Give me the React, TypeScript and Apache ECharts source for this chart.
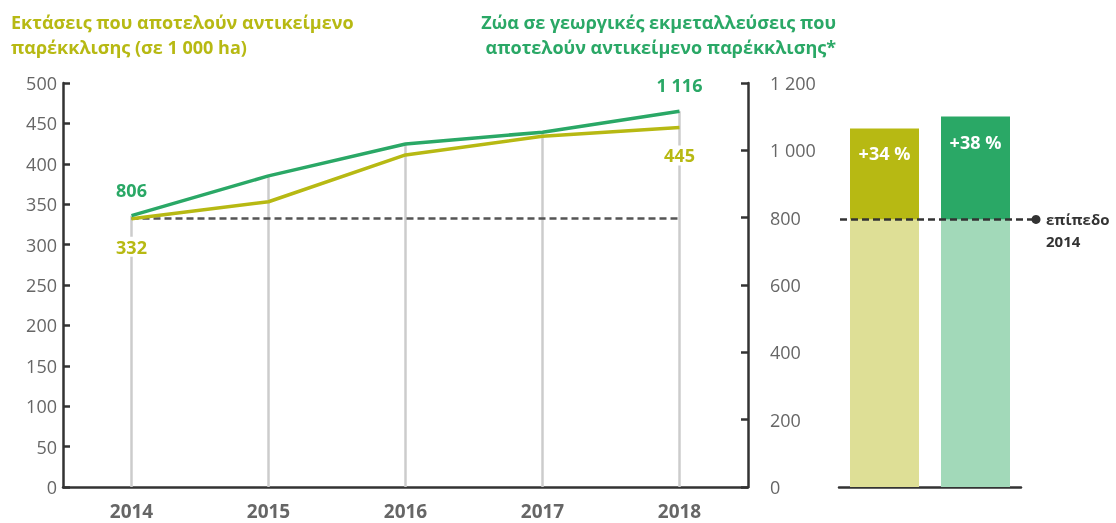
import React, { useEffect, useRef } from "react";
import * as echarts from "echarts";

const years = ["2014", "2015", "2016", "2017", "2018"];
const areaValues = [332, 353, 411, 434, 445]; // 1 000 ha, left axis
const livestockValues = [806, 924, 1019, 1054, 1116]; // right axis
const leftTitle = "Εκτάσεις που αποτελούν αντικείμενο\nπαρέκκλισης (σε 1 000 ha)";
const rightTitle = "Ζώα σε γεωργικές εκμεταλλεύσεις που\nαποτελούν αντικείμενο παρέκκλισης*";
const baseLabel = "επίπεδο\n2014";
const barCategories = ["areas", "livestock"];

const OLIVE = "#b7b913";
const GREEN = "#2aa866";
const OLIVE_LIGHT = "#dedf96";
const GREEN_LIGHT = "#a2d9b9";
const FONT = "'Open Sans', 'Noto Sans', sans-serif";

const fmt = (v: number) => String(v).replace(/\B(?=(\d{3})+(?!\d))/g, " ");

const firstLast = [
  [areaValues[0], areaValues[areaValues.length - 1]],
  [livestockValues[0], livestockValues[livestockValues.length - 1]],
];
const baseBars = firstLast.map(() => 100);
const growthBars = firstLast.map(([a, b]) => (b / a - 1) * 100);

export default function App() {
  const ref = useRef<HTMLDivElement>(null);
  useEffect(() => {
    if (!ref.current) return;
    const chart = echarts.init(ref.current, null, { renderer: "svg" });
    const last = years.length - 1;
    chart.setOption({
      animation: false,
      textStyle: { fontFamily: FONT },
      graphic: [
        {
          type: "text",
          left: 11,
          top: 9,
          style: { text: leftTitle, fill: OLIVE, font: `bold 18px ${FONT}`, lineHeight: 25 },
        },
        {
          type: "text",
          x: 836,
          y: 9,
          style: { text: rightTitle, fill: GREEN, font: `bold 18px ${FONT}`, lineHeight: 25, textAlign: "right", textVerticalAlign: "top" },
        },
      ],
      grid: [
        { left: 63, right: 368, top: 83, bottom: 36 },
        { left: 839, width: 182, top: 83, bottom: 36 },
      ],
      xAxis: [
        {
          type: "category",
          gridIndex: 0,
          data: years,
          boundaryGap: true,
          axisLine: { lineStyle: { color: "#333", width: 2.5 } },
          axisTick: { show: false },
          axisLabel: { color: "#666", fontSize: 19, lineHeight: 18, fontWeight: "bold", margin: 15, fontFamily: FONT },
        },
        {
          type: "category",
          gridIndex: 1,
          data: barCategories,
          axisLine: { lineStyle: { color: "#333", width: 2.5 } },
          axisTick: { show: false },
          axisLabel: { show: false },
        },
      ],
      yAxis: [
        {
          type: "value",
          gridIndex: 0,
          min: 0,
          max: 500,
          interval: 50,
          position: "left",
          axisLine: { show: true, lineStyle: { color: "#333", width: 2.5 } },
          axisTick: { show: true, inside: true, length: 7, lineStyle: { color: "#333", width: 2.5 } },
          axisLabel: { color: "#666", fontSize: 18, margin: 6, fontFamily: FONT },
          splitLine: { show: false },
        },
        {
          type: "value",
          gridIndex: 0,
          min: 0,
          max: 1200,
          interval: 200,
          position: "right",
          axisLine: { show: true, lineStyle: { color: "#333", width: 2.5 } },
          axisTick: { show: true, inside: true, length: 7, lineStyle: { color: "#333", width: 2.5 } },
          axisLabel: { color: "#666", fontSize: 18, margin: 22, align: "left", formatter: (v: number) => fmt(v), fontFamily: FONT },
          splitLine: { show: false },
        },
        {
          type: "value",
          gridIndex: 1,
          min: 0,
          max: 151,
          show: false,
          splitLine: { show: false },
        },
      ],
      series: [
        {
          type: "custom",
          xAxisIndex: 0,
          yAxisIndex: 1,
          z: 1,
          data: livestockValues.map((v, i) => [i, v]),
          renderItem: (params: any, api: any) => {
            const i = api.value(0);
            const top = api.coord([i, api.value(1)]);
            const bottom = api.coord([i, 0]);
            return {
              type: "line",
              shape: { x1: top[0], y1: top[1], x2: bottom[0], y2: bottom[1] },
              style: { stroke: "#cccccc", lineWidth: 2.5 },
            };
          },
        },
        {
          type: "line",
          name: "areas",
          xAxisIndex: 0,
          yAxisIndex: 0,
          data: areaValues,
          symbol: "none",
          z: 3,
          lineStyle: { color: OLIVE, width: 3.5 },
          markLine: {
            silent: true,
            symbol: "none",
            z: 2,
            lineStyle: { color: "#555", width: 2.5, type: [7, 4] },
            label: { show: false },
            data: [[{ coord: [0, areaValues[0]] }, { coord: [last, areaValues[0]] }]],
          },
          markPoint: {
            symbol: "rect",
            symbolSize: 0,
            silent: true,
            data: [0, last].map((i) => ({
              coord: [i, areaValues[i]],
              value: areaValues[i],
              label: {
                show: true,
                position: "bottom",
                distance: 18,
                formatter: fmt(areaValues[i]),
                color: OLIVE,
                fontWeight: "bold",
                fontSize: 18,
                fontFamily: FONT,
                backgroundColor: "#fff",
                padding: [1, 2],
              },
            })),
          },
        },
        {
          type: "line",
          name: "livestock",
          xAxisIndex: 0,
          yAxisIndex: 1,
          data: livestockValues,
          symbol: "none",
          z: 4,
          lineStyle: { color: GREEN, width: 3.5 },
          markPoint: {
            symbol: "rect",
            symbolSize: 0,
            silent: true,
            data: [0, last].map((i) => ({
              coord: [i, livestockValues[i]],
              value: livestockValues[i],
              label: {
                show: true,
                position: "top",
                distance: 17,
                formatter: fmt(livestockValues[i]),
                color: GREEN,
                fontWeight: "bold",
                fontSize: 18,
                fontFamily: FONT,
              },
            })),
          },
        },
        {
          type: "bar",
          xAxisIndex: 1,
          yAxisIndex: 2,
          stack: "s",
          barWidth: 69,
          data: baseBars.map((v, i) => ({ value: v, itemStyle: { color: i === 0 ? OLIVE_LIGHT : GREEN_LIGHT } })),
        },
        {
          type: "bar",
          xAxisIndex: 1,
          yAxisIndex: 2,
          stack: "s",
          barWidth: 69,
          data: growthBars.map((v, i) => ({ value: v, itemStyle: { color: i === 0 ? OLIVE : GREEN } })),
          label: {
            show: true,
            position: "insideTop",
            distance: 16,
            color: "#fff",
            fontWeight: "bold",
            fontSize: 18,
            fontFamily: FONT,
            formatter: (p: any) => "+" + Math.round(p.value) + " %",
          },
        },
        {
          type: "custom",
          xAxisIndex: 1,
          yAxisIndex: 2,
          z: 5,
          data: [[0, 100]],
          renderItem: (params: any, api: any) => {
            const p = api.coord([0, api.value(1)]);
            const cs = params.coordSys;
            const x1 = cs.x + 1;
            const x2 = cs.x + cs.width + 15;
            return {
              type: "group",
              children: [
                {
                  type: "line",
                  shape: { x1, y1: p[1], x2, y2: p[1] },
                  style: { stroke: "#333", lineWidth: 2.5, lineDash: [7, 4] },
                },
                { type: "circle", shape: { cx: x2, cy: p[1], r: 4.5 }, style: { fill: "#333" } },
                {
                  type: "text",
                  x: x2 + 10,
                  y: p[1] - 11,
                  style: {
                    text: baseLabel,
                    fill: "#333",
                    font: `bold 15px ${FONT}`,
                    lineHeight: 22,
                    textVerticalAlign: "top",
                  },
                },
              ],
            };
          },
        },
      ],
    });
    return () => chart.dispose();
  }, []);
  return <div ref={ref} style={{ position: "fixed", left: 0, top: 0, width: 1116, height: 523 }} />;
}
